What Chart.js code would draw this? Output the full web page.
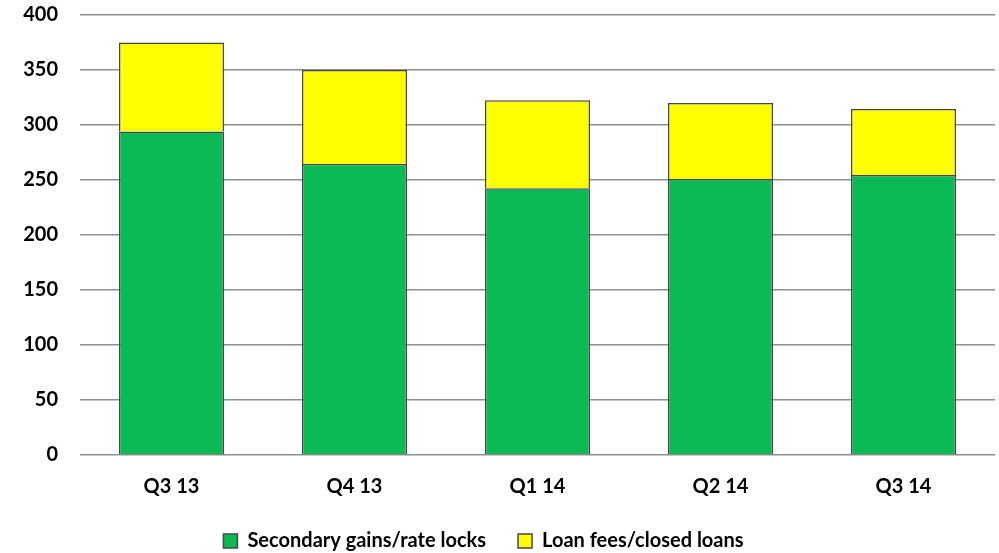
<!DOCTYPE html>
<html>
<head>
<meta charset="utf-8">
<script src="https://cdn.jsdelivr.net/npm/chart.js@4.4.1/dist/chart.umd.min.js"></script>
<style>
  html, body { margin: 0; padding: 0; background: #fff; }
  #wrap { width: 999px; height: 553px; }
</style>
</head>
<body>
<div id="wrap"><canvas id="myChart" width="999" height="553"></canvas></div>
<script>
const quarters = ['Q3 13', 'Q4 13', 'Q1 14', 'Q2 14', 'Q3 14'];
const secondaryGains = [294, 264.5, 242.5, 251, 254.5];
const loanFees = [81, 85.5, 80, 69, 60];
const yTicks = [0, 50, 100, 150, 200, 250, 300, 350, 400];

const font = 'Lato';

const data = {
  labels: quarters,
  datasets: [{
    label: 'Secondary gains/rate locks',
    data: secondaryGains,
    backgroundColor: '#0BBA55',
    borderColor: '#474747',
    borderWidth: 1.5
  }, {
    label: 'Loan fees/closed loans',
    data: loanFees,
    backgroundColor: '#FFFF00',
    borderColor: '#474747',
    borderWidth: 1.5
  }]
};

// legend in the original sits a bit left of centre
const legendShift = {
  id: 'legendShift',
  afterLayout(chart) {
    chart.legend.left -= 14;
    chart.legend.right -= 14;
  }
};

const config = {
  type: 'bar',
  data: data,
  plugins: [legendShift],
  options: {
    responsive: false,
    animation: false,
    layout: { padding: { top: 15, right: 4, left: 0, bottom: 0 } },
    datasets: {
      bar: { categoryPercentage: 1, barPercentage: 0.574 }
    },
    scales: {
      x: {
        stacked: true,
        grid: { display: false, drawTicks: false },
        border: { display: false },
        ticks: {
          color: '#000',
          padding: 20,
          font: { family: font, size: 20, weight: 'bold' }
        },
        afterFit: function(scale) { scale.height = 44; }
      },
      y: {
        stacked: true,
        min: 0,
        max: 400,
        afterBuildTicks: function(scale) {
          scale.ticks = yTicks.map(v => ({ value: v }));
        },
        grid: { color: '#8e8e8e', lineWidth: 1.5, drawTicks: false },
        border: { display: false },
        ticks: {
          color: '#000',
          padding: 22,
          font: { family: font, size: 20, weight: 'bold' }
        },
        afterFit: function(scale) {
          scale.width = 80;
          scale.paddingTop = 0;
          scale.paddingBottom = 0;
        }
      }
    },
    plugins: {
      legend: {
        position: 'bottom',
        maxHeight: 54,
        labels: {
          color: '#000',
          boxWidth: 14,
          boxHeight: 14,
          padding: 32,
          font: { family: font, size: 20, weight: 'bold' }
        }
      },
      tooltip: { enabled: false }
    }
  }
};

const myChart = new Chart(
  document.getElementById('myChart'),
  config
);
</script>
</body>
</html>
